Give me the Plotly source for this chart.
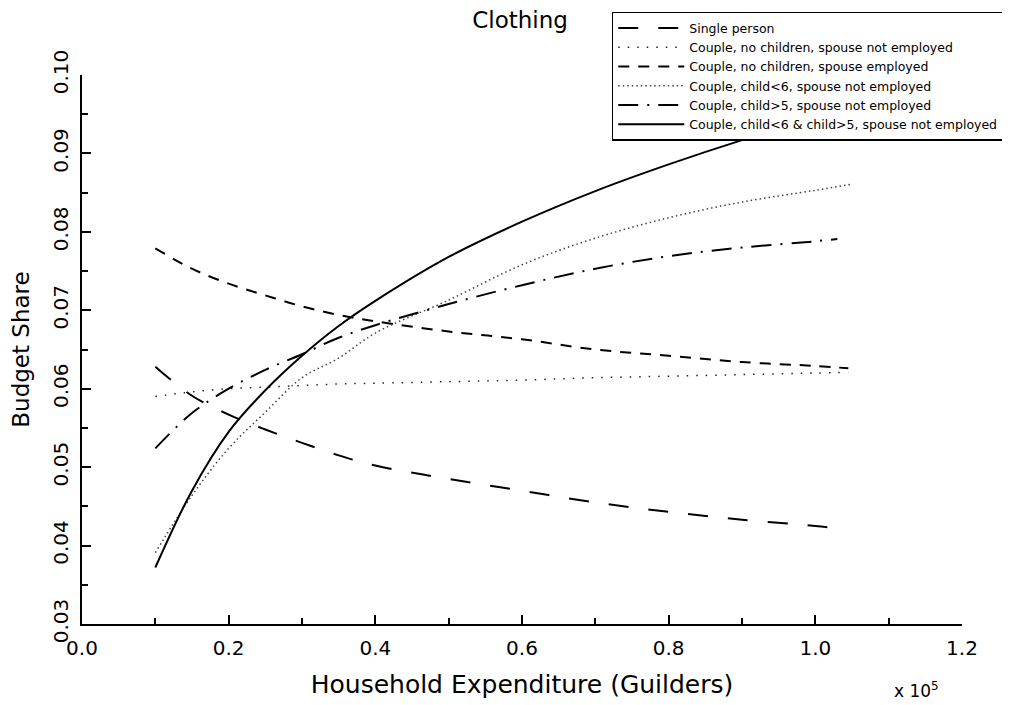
import plotly.graph_objects as go

# Household expenditure (x 10^5 guilders)
x_grid = [0.1, 0.15, 0.2, 0.25, 0.3, 0.35, 0.4, 0.5, 0.6, 0.7, 0.8, 0.9, 1.0]

x_single = x_grid + [1.03]
single_person = [0.0628, 0.0591, 0.0567, 0.0548, 0.0531, 0.0515, 0.0502, 0.0485, 0.0470, 0.0455, 0.0443, 0.0433, 0.0425, 0.0422]

x_nochild_not = x_grid + [1.045]
couple_nochild_not_employed = [0.0590, 0.0596, 0.0600, 0.0602, 0.0604, 0.0606, 0.0607, 0.0609, 0.0611, 0.0614, 0.0616, 0.0618, 0.0620, 0.0621]

x_nochild_emp = x_grid + [1.045]
couple_nochild_employed = [0.0779, 0.0753, 0.0734, 0.0719, 0.0705, 0.0694, 0.0686, 0.0673, 0.0663, 0.0650, 0.0642, 0.0634, 0.0629, 0.0626]

x_young = x_grid + [1.05]
couple_child_under6 = [0.0391, 0.0464, 0.0524, 0.0570, 0.0614, 0.0639, 0.0671, 0.0713, 0.0758, 0.0792, 0.0818, 0.0838, 0.0853, 0.0861]

x_older = x_grid + [1.03]
couple_child_over5 = [0.0524, 0.0569, 0.0600, 0.0624, 0.0644, 0.0665, 0.0681, 0.0708, 0.0732, 0.0753, 0.0769, 0.0780, 0.0788, 0.0791]

x_both = x_grid + [1.05]
couple_both = [0.0372, 0.0470, 0.0545, 0.0598, 0.0642, 0.0680, 0.0712, 0.0768, 0.0813, 0.0852, 0.0886, 0.0917, 0.0945, 0.0958]

names = [
    "Single person",
    "Couple, no children, spouse not employed",
    "Couple, no children, spouse employed",
    "Couple, child<6, spouse not employed",
    "Couple, child>5, spouse not employed",
    "Couple, child<6 & child>5, spouse not employed",
]

FONT = "DejaVu Sans"

fig = go.Figure()
series = [
    (x_single, single_person, dict(color="black", width=2, dash="20px,20px")),
    (x_nochild_not, couple_nochild_not_employed, dict(color="#222", width=1.5, dash="1.5px,8px")),
    (x_nochild_emp, couple_nochild_employed, dict(color="black", width=2, dash="11px,9px")),
    (x_young, couple_child_under6, dict(color="#444", width=1.5, dash="1.5px,3px")),
    (x_older, couple_child_over5, dict(color="black", width=2, dash="20px,9px,2px,9px")),
    (x_both, couple_both, dict(color="black", width=2)),
]
for (xs, ys, ln), nm in zip(series, names):
    fig.add_trace(go.Scatter(x=xs, y=ys, mode="lines", name=nm, line=ln,
                             line_shape="spline"))

# page body has an 8px margin, so plot area screen = margin + 8
fig.update_layout(
    width=1010, height=705,
    paper_bgcolor="white", plot_bgcolor="white",
    margin=dict(l=74, r=56, t=67, b=89, autoexpand=False),
    font=dict(family=FONT, color="black", size=16),
    title=dict(text="Clothing", x=0.507, xanchor="center", y=0.983, yanchor="middle",
               font=dict(size=23, family=FONT)),
    showlegend=True,
    legend=dict(x=0.602, y=1.115, xanchor="left", yanchor="top",
                bordercolor="black", borderwidth=1.5, bgcolor="white",
                font=dict(size=12.5, family=FONT), tracegroupgap=0,
                itemwidth=66),
    xaxis=dict(range=[0, 1.2], dtick=0.2, tick0=0, tickformat=".1f",
               showline=True, linecolor="black", linewidth=2, mirror=False,
               showgrid=False, zeroline=False,
               ticks="inside", ticklen=9, tickwidth=1.5, tickcolor="black",
               minor=dict(dtick=0.1, ticks="inside", ticklen=6, tickwidth=1.5, tickcolor="black", showgrid=False),
               tickfont=dict(size=20), ticklabelstandoff=5,
               title=dict(text="Household Expenditure (Guilders)", font=dict(size=25), standoff=16)),
    yaxis=dict(range=[0.03, 0.10], dtick=0.01, tick0=0.03, tickformat=".2f",
               showline=True, linecolor="black", linewidth=2, mirror=False,
               showgrid=False, zeroline=False,
               ticks="inside", ticklen=9, tickwidth=1.5, tickcolor="black",
               minor=dict(dtick=0.005, ticks="inside", ticklen=6, tickwidth=1.5, tickcolor="black", showgrid=False),
               tickangle=-90, tickfont=dict(size=20), ticklabelstandoff=4,
               title=dict(text="Budget Share", font=dict(size=23), standoff=16)),
)

fig.add_annotation(text="x 10<sup>5</sup>", xref="paper", yref="paper",
                   x=(916 - 82) / 880, y=-(690 - 624) / 549,
                   showarrow=False, xanchor="center", yanchor="middle",
                   font=dict(size=17, family=FONT))

fig.write_html("out.html")
